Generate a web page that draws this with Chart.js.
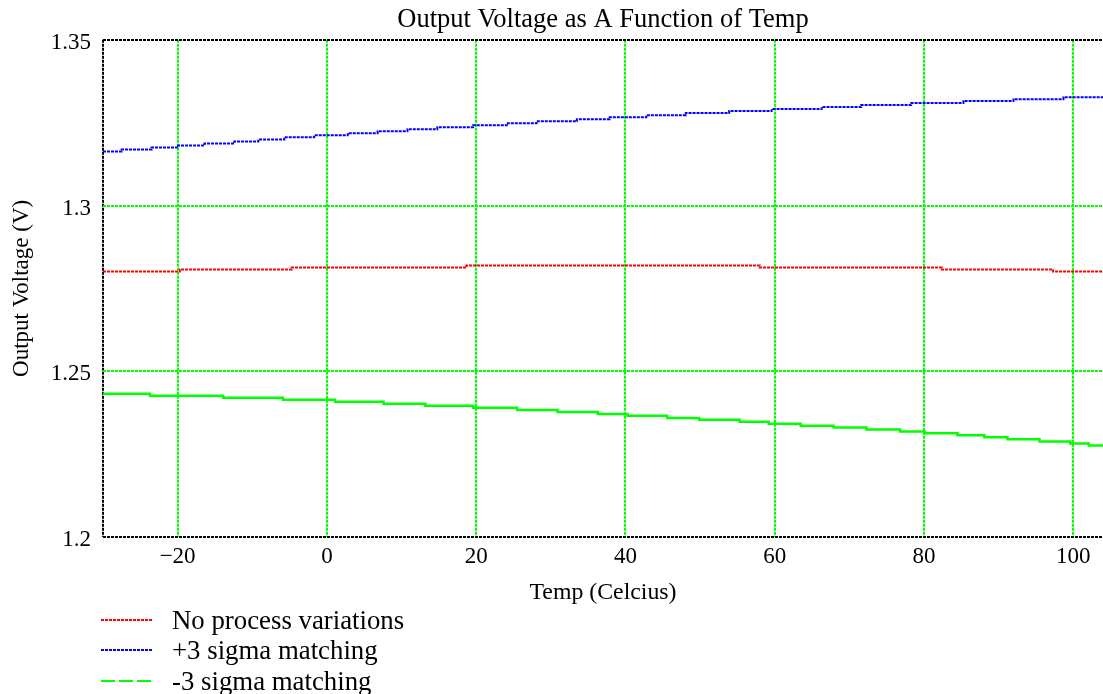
<!DOCTYPE html>
<html><head><meta charset="utf-8">
<script src="https://cdn.jsdelivr.net/npm/chart.js@4"></script>
<style>
html,body{margin:0;padding:0;background:#fff;}
#wrap{position:relative;width:1103px;height:694px;}
canvas{display:block;}
.item{position:absolute;left:0;height:30px;width:600px;font-family:"Liberation Serif","Times New Roman",serif;font-size:26.8px;color:#000;}
.item svg{position:absolute;left:101px;top:13px;}
.item span{position:absolute;left:172px;top:0;line-height:30px;white-space:nowrap;}
</style></head>
<body>
<div id="wrap">
<canvas id="c" width="1103" height="694"></canvas>
<div class="item" style="top:605px"><svg width="52" height="4"><line x1="0" y1="2" x2="52" y2="2" stroke="#ff0000" stroke-width="2" stroke-dasharray="3,1"/></svg><span>No process variations</span></div>
<div class="item" style="top:635px"><svg width="52" height="4"><line x1="0" y1="2" x2="52" y2="2" stroke="#0000ff" stroke-width="2" stroke-dasharray="3,1"/></svg><span>+3 sigma matching</span></div>
<div class="item" style="top:666px"><svg width="52" height="4"><line x1="0" y1="2" x2="52" y2="2" stroke="#00ff00" stroke-width="2" stroke-dasharray="14,4"/></svg><span>-3 sigma matching</span></div>
</div>
<script>
const xTicks = [-20, 0, 20, 40, 60, 80, 100];
const xTickLabels = ['\u221220', '0', '20', '40', '60', '80', '100'];
const yTicks = [1.2, 1.25, 1.3, 1.35];
const yTickLabels = ['1.2', '1.25', '1.3', '1.35'];

const redTemps = [-30, -19.7, -4.7, 18.7, 58, 82.4, 97.3, 104];
const redVals  = [1.2801, 1.2807, 1.2813, 1.2819, 1.2813, 1.2807, 1.2801, 1.2801];

const blueTemps = [-30, -27.5, -23.5, -20.1, -16.4, -12.4, -9.2, -5.7, -1.7, 2.8, 6.8, 10.8, 14.8, 19.6, 24.1, 28.1, 33.5, 37.9, 42.8, 48.1, 53.9, 59.6, 66.3, 71.6, 78.3, 85.3, 92, 98.7, 104];
const blueVals  = [1.3163, 1.3169, 1.3175, 1.3181, 1.3187, 1.3193, 1.3199, 1.3206, 1.3212, 1.3218, 1.3224, 1.3230, 1.3236, 1.3242, 1.3248, 1.3254, 1.3260, 1.3266, 1.3272, 1.3279, 1.3285, 1.3291, 1.3297, 1.3303, 1.3309, 1.3315, 1.3321, 1.3327, 1.3327];

const greenTemps = [-30, -23.7, -13.9, -5.9, 1.1, 7.6, 13.2, 19.6, 25.5, 30.9, 36.3, 40.3, 45.6, 49.9, 55.3, 59.2, 63.5, 67.9, 72.3, 76.8, 80.1, 84.5, 88.1, 91.2, 95.5, 99.6, 102.1, 104];
const greenVals  = [1.2432, 1.2426, 1.2420, 1.2414, 1.2408, 1.2402, 1.2396, 1.2390, 1.2383, 1.2377, 1.2371, 1.2366, 1.2359, 1.2354, 1.2348, 1.2342, 1.2336, 1.2330, 1.2324, 1.2318, 1.2313, 1.2307, 1.2301, 1.2295, 1.2288, 1.2282, 1.2276, 1.2276];

const X_MIN = -30, X_MAX = 104, Y_MIN = 1.2, Y_MAX = 1.35;
const FAMILY = '"Liberation Serif","Times New Roman",serif';
const FONT = {family: FAMILY, size: 23, weight: 'normal'};
const XTITLE_FONT = {family: FAMILY, size: 23.8, weight: 'normal'};
const TITLE_FONT = {family: FAMILY, size: 26.5, weight: 'normal'};

const pts = (xs, ys) => xs.map((x, i) => ({x, y: ys[i]}));

new Chart(document.getElementById('c'), {
  type: 'line',
  data: {
    datasets: [
      {label: 'No process variations', data: pts(redTemps, redVals), borderColor: '#ff0000', borderWidth: 2, borderDash: [3, 1], stepped: true, pointRadius: 0, fill: false},
      {label: '+3 sigma matching', data: pts(blueTemps, blueVals), borderColor: '#0000ff', borderWidth: 2, borderDash: [3, 1], stepped: true, pointRadius: 0, fill: false},
      {label: '-3 sigma matching', data: pts(greenTemps, greenVals), borderColor: '#00ff00', borderWidth: 2.5, stepped: true, pointRadius: 0, fill: false}
    ]
  },
  options: {
    responsive: false,
    animation: false,
    layout: {padding: {left: 0, right: 0, top: 0, bottom: 87}},
    plugins: {
      legend: {display: false},
      tooltip: {enabled: false},
      title: {display: true, fullSize: false, text: 'Output Voltage as A Function of Temp', color: '#000', font: TITLE_FONT, padding: {top: 4, bottom: 4}}
    },
    scales: {
      x: {
        type: 'linear', min: X_MIN, max: X_MAX,
        afterBuildTicks: s => { s.ticks = [X_MIN].concat(xTicks).map(v => ({value: v})); },
        afterFit: s => { s.height = 70; },
        ticks: {
          autoSkip: false, maxRotation: 0, color: '#000', font: FONT, padding: 6,
          callback: v => { const i = xTicks.indexOf(v); return i < 0 ? '' : xTickLabels[i]; }
        },
        grid: {drawTicks: false, lineWidth: 2, color: c => (c.tick && c.tick.value === X_MIN) ? '#000' : '#00ff00'},
        border: {display: false, dash: [3, 1]},
        title: {display: true, text: 'Temp (Celcius)', color: '#000', font: XTITLE_FONT, padding: {top: 0, bottom: 0}}
      },
      y: {
        type: 'linear', min: Y_MIN, max: Y_MAX,
        afterBuildTicks: s => { s.ticks = yTicks.map(v => ({value: v})); },
        afterFit: s => { s.width = 103; },
        ticks: {
          color: '#000', font: FONT, padding: 12, labelOffset: 3,
          callback: v => { const i = yTicks.indexOf(v); return i < 0 ? '' : yTickLabels[i]; }
        },
        grid: {drawTicks: false, lineWidth: 2, color: c => (c.tick && (c.tick.value === Y_MIN || c.tick.value === Y_MAX)) ? '#000' : '#00ff00'},
        border: {display: false, dash: [3, 1]},
        title: {display: true, text: 'Output Voltage (V)', color: '#000', font: FONT, padding: {top: 8, bottom: 0}}
      }
    }
  }
});
</script>
</body></html>
